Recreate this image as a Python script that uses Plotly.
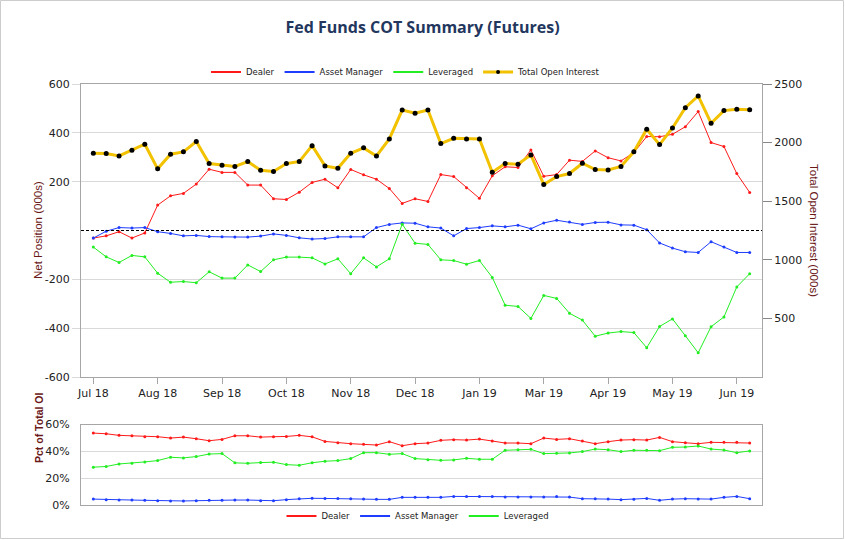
import pandas as pd
import plotly.graph_objects as go

# ---------------- data ----------------
report_dates = pd.date_range("2018-07-03", periods=52, freq="7D")

dealer_net = [-31, -22, -5, -31, -10, 104, 142, 152, 190, 251, 238, 238, 186, 186, 130, 127,
              157, 197, 210, 175, 250, 228, 210, 172, 111, 130, 119, 229, 221, 175, 132, 224,
              261, 258, 330, 222, 229, 288, 283, 326, 298, 285, 319, 385, 384, 394, 425, 487,
              360, 344, 233, 156]
asset_mgr_net = [-31, -3, 12, 10, 12, -5, -12, -22, -20, -25, -26, -27, -27, -23, -14, -20,
                 -30, -35, -33, -26, -26, -26, 12, 25, 31, 30, 15, 10, -22, 8, 12, 19,
                 15, 22, 7, 31, 42, 35, 25, 33, 34, 23, 22, 3, -51, -72, -87, -90,
                 -46, -68, -90, -90]
leveraged_net = [-68, -108, -131, -102, -108, -175, -212, -209, -214, -169, -195, -195, -141, -168,
                 -120, -109, -109, -112, -137, -116, -177, -112, -149, -116, 26, -52, -57, -120,
                 -123, -138, -123, -192, -306, -311, -360, -266, -278, -339, -367, -433, -420,
                 -414, -418, -480, -393, -362, -431, -501, -394, -354, -231, -177]
total_oi = [1909, 1906, 1886, 1935, 1986, 1776, 1901, 1921, 2009, 1821, 1807, 1796, 1838, 1764,
            1753, 1821, 1838, 1974, 1801, 1781, 1909, 1955, 1886, 2031, 2278, 2250, 2278, 1992,
            2037, 2031, 2031, 1747, 1821, 1815, 1895, 1642, 1710, 1736, 1824, 1770, 1767, 1796,
            1921, 2114, 1983, 2125, 2298, 2398, 2165, 2273, 2284, 2281]

dealer_pct = [53.6, 53.1, 51.9, 51.6, 50.9, 50.9, 49.9, 50.6, 49.4, 47.9, 48.9, 51.6, 51.6, 50.6,
              50.9, 51.1, 51.9, 50.8, 47.4, 46.4, 45.7, 45.2, 44.7, 47.2, 44.2, 45.7, 46.2, 48.2,
              48.7, 48.4, 49.1, 47.7, 46.2, 46.2, 45.7, 49.9, 48.9, 49.4, 47.7, 45.7, 47.2, 48.4,
              48.7, 48.4, 50.4, 47.2, 46.4, 45.7, 46.7, 46.7, 46.7, 46.2]
asset_mgr_pct = [4.4, 4.0, 3.7, 3.7, 3.5, 3.2, 3.0, 3.0, 3.2, 3.5, 3.5, 3.7, 3.7, 3.2, 3.2, 4.0,
                 4.7, 5.0, 4.9, 4.9, 4.7, 4.4, 4.2, 4.2, 5.7, 5.7, 5.7, 5.7, 6.4, 6.4, 6.4, 6.4,
                 5.9, 5.9, 5.9, 5.9, 6.4, 5.9, 4.7, 4.7, 4.4, 4.0, 4.2, 4.9, 3.5, 4.4, 4.7, 4.4,
                 4.4, 5.7, 6.4, 4.7]
leveraged_pct = [28.2, 28.7, 30.6, 31.1, 32.1, 33.1, 35.6, 35.1, 36.1, 38.0, 38.3, 31.4, 31.1,
                 31.6, 31.9, 30.1, 29.6, 31.5, 32.6, 33.1, 34.6, 39.0, 39.0, 37.8, 38.3, 34.6,
                 33.8, 33.3, 33.6, 34.8, 34.1, 34.1, 40.8, 41.2, 41.5, 38.3, 38.5, 38.8, 39.8,
                 41.7, 41.2, 39.8, 40.8, 40.8, 40.5, 43.0, 43.2, 44.0, 41.7, 41.0, 39.0, 40.3]

tick_dates = list(report_dates[::5])
tick_labels = [d.strftime("%b %y") for d in tick_dates]
net_ticks = [-600, -400, -200, 200, 400, 600]
net_labels = ["-600", "-400", "-200", "200", "400", "600"]
oi_ticks = [500, 1000, 1500, 2000, 2500]
pct_ticks = [0, 20, 40, 60]
pct_labels = ["0%", "20%", "40%", "60%"]

# ---------------- styles ----------------
RED = "#ff1a1a"
BLUE = "#1f3dff"
GREEN = "#22ee22"
GOLD = "#f2c200"
TXT = "#222222"
TITLE_RED = "#6a1818"
AXIS = "#a6a6a6"
GRID = "#d9d9d9"
FONT = "DejaVu Sans"

pad = pd.Timedelta(days=6.7)
x_range = [report_dates[0] - pad, report_dates[-1] + pad]

fig = go.Figure()

def add_line(y, name, color, yaxis, xaxis):
    fig.add_trace(go.Scatter(
        x=report_dates, y=y, name=name, mode="lines+markers",
        line=dict(color=color, width=1),
        marker=dict(color=color, size=3),
        xaxis=xaxis, yaxis=yaxis, showlegend=False,
    ))

def add_legend_entry(name, color, legend, width=2, marker=False):
    fig.add_trace(go.Scatter(
        x=[None], y=[None], name=name,
        mode="lines+markers" if marker else "lines",
        line=dict(color=color, width=width),
        marker=dict(color="black", size=4),
        legend=legend, showlegend=True,
    ))

add_line(dealer_net, "Dealer", RED, "y", "x")
add_line(asset_mgr_net, "Asset Manager", BLUE, "y", "x")
add_line(leveraged_net, "Leveraged", GREEN, "y", "x")
fig.add_trace(go.Scatter(
    x=report_dates, y=total_oi, name="Total Open Interest", mode="lines+markers",
    line=dict(color=GOLD, width=3),
    marker=dict(color="black", size=5),
    xaxis="x", yaxis="y2", showlegend=False,
))

add_line(dealer_pct, "Dealer", RED, "y3", "x2")
add_line(asset_mgr_pct, "Asset Manager", BLUE, "y3", "x2")
add_line(leveraged_pct, "Leveraged", GREEN, "y3", "x2")

add_legend_entry("Dealer", RED, "legend")
add_legend_entry("Asset Manager", BLUE, "legend")
add_legend_entry("Leveraged", GREEN, "legend")
add_legend_entry("Total Open Interest", GOLD, "legend", width=3, marker=True)
add_legend_entry("Dealer", RED, "legend2")
add_legend_entry("Asset Manager", BLUE, "legend2")
add_legend_entry("Leveraged", GREEN, "legend2")

L, R, T, B = 81, 83, 84, 35
W, H = 845, 540
PW, PH = W - L - R, H - T - B

def px_x(px):
    return (px - L) / PW

def px_y(py):
    return (H - B - py) / PH

tick_font = dict(family=FONT, size=11, color=TXT)
legend_font = dict(family="DejaVu Sans", size=8.5, color=TXT)

fig.update_layout(
    width=W, height=H,
    margin=dict(l=L, r=R, t=T, b=B, pad=0, autoexpand=False),
    paper_bgcolor="white", plot_bgcolor="white",
    font=dict(family=FONT, color=TXT),
    title=dict(text="<b>Fed Funds COT Summary (Futures)</b>", x=0.5, xref="container",
               xanchor="center", y=1 - 27 / H, yref="container", yanchor="middle",
               font=dict(family="Open Sans", size=16, color="#23375e")),
    xaxis=dict(domain=[0, 1], anchor="y", type="date", range=x_range,
               tickvals=tick_dates, ticktext=tick_labels, tickfont=tick_font,
               ticks="outside", ticklen=6, tickcolor=AXIS, automargin=False,
               showline=True, linecolor=AXIS, mirror=True, showgrid=False, zeroline=False),
    yaxis=dict(domain=[px_y(377), 1], anchor="x", range=[-600, 600],
               tickvals=net_ticks, ticktext=net_labels, tickfont=tick_font,
               ticks="outside", ticklen=8, tickcolor=GRID, automargin=False,
               showline=True, linecolor=AXIS, showgrid=True, gridcolor=GRID, zeroline=False),
    yaxis2=dict(overlaying="y", side="right", anchor="x", range=[0, 2500],
                tickvals=oi_ticks, tickfont=tick_font, automargin=False,
                ticks="outside", ticklen=9, tickcolor="#888888",
                showline=True, linecolor=AXIS, showgrid=False, zeroline=False),
    xaxis2=dict(domain=[0, 1], anchor="y3", type="date", range=x_range,
                showticklabels=False, ticks="", showline=True, linecolor=AXIS,
                mirror=True, showgrid=False, zeroline=False, automargin=False),
    yaxis3=dict(domain=[0, px_y(424.5)], anchor="x2", range=[0, 60],
                tickvals=pct_ticks, ticktext=pct_labels, tickfont=tick_font,
                ticks="outside", ticklen=8, tickcolor="rgba(0,0,0,0)", automargin=False,
                showline=True, linecolor=AXIS, mirror=True, showgrid=True, gridcolor=GRID,
                zeroline=False),
    legend=dict(orientation="h", x=px_x(406), xanchor="center", y=px_y(72), yanchor="middle",
                font=legend_font, itemwidth=30, tracegroupgap=0, bgcolor="rgba(0,0,0,0)"),
    legend2=dict(orientation="h", x=px_x(418), xanchor="center", y=px_y(516), yanchor="middle",
                 font=legend_font, itemwidth=30, tracegroupgap=0, bgcolor="rgba(0,0,0,0)"),
    showlegend=True,
    hovermode=False,
)

fig.add_shape(type="line", xref="x domain", yref="y", x0=0, x1=1, y0=0, y1=0,
              line=dict(color="black", width=1, dash="3px,2px"))
fig.add_shape(type="rect", xref="paper", yref="paper",
              x0=px_x(0.5), x1=px_x(843.5), y0=px_y(538.5), y1=px_y(0.5),
              line=dict(color="#cccccc", width=1), layer="below")

fig.add_annotation(text="Net Position (000s)", xref="paper", yref="paper",
                   x=px_x(30), y=px_y(230), textangle=-90, showarrow=False,
                   font=dict(family="Liberation Sans", size=11.5, color=TITLE_RED))
fig.add_annotation(text="Total Open Interest (000s)", xref="paper", yref="paper",
                   x=px_x(822), y=px_y(230), textangle=90, showarrow=False,
                   font=dict(family="Liberation Sans", size=11.5, color=TITLE_RED))
fig.add_annotation(text="<b>Pct of Total OI</b>", xref="paper", yref="paper",
                   x=px_x(31), y=px_y(465), textangle=-90, showarrow=False,
                   font=dict(family="Liberation Sans", size=10.5, color=TITLE_RED))

fig.write_html("out.html",
               config={"displayModeBar": False, "staticPlot": True},
               post_script="document.body.style.margin='0';document.body.style.overflow='hidden';")
